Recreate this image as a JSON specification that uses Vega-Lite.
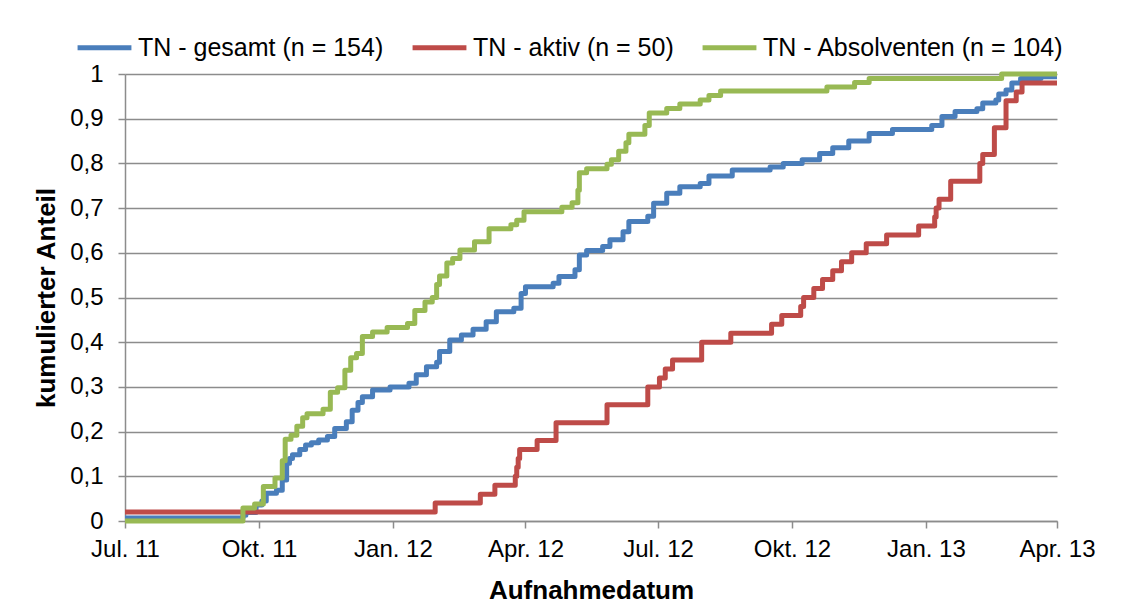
{
  "$schema": "https://vega.github.io/schema/vega-lite/v6.json",
  "width": 932,
  "height": 447,
  "autosize": "none",
  "padding": {"left": 125, "top": 74, "right": 66, "bottom": 92},
  "background": "white",
  "config": {
    "view": {"stroke": null},
    "font": "Liberation Sans",
    "axis": {"labelFont": "Liberation Sans", "titleFont": "Liberation Sans", "labelColor": "black", "titleColor": "black"}
  },
  "data": {
    "values": [
      {"s": "TN - gesamt (n = 154)", "d": "2011-07-01", "v": 0.0065},
      {"s": "TN - gesamt (n = 154)", "d": "2011-09-20", "v": 0.013},
      {"s": "TN - gesamt (n = 154)", "d": "2011-09-22", "v": 0.019},
      {"s": "TN - gesamt (n = 154)", "d": "2011-09-29", "v": 0.036},
      {"s": "TN - gesamt (n = 154)", "d": "2011-10-03", "v": 0.045},
      {"s": "TN - gesamt (n = 154)", "d": "2011-10-06", "v": 0.062},
      {"s": "TN - gesamt (n = 154)", "d": "2011-10-13", "v": 0.069},
      {"s": "TN - gesamt (n = 154)", "d": "2011-10-17", "v": 0.092},
      {"s": "TN - gesamt (n = 154)", "d": "2011-10-20", "v": 0.129},
      {"s": "TN - gesamt (n = 154)", "d": "2011-10-22", "v": 0.14},
      {"s": "TN - gesamt (n = 154)", "d": "2011-10-24", "v": 0.148},
      {"s": "TN - gesamt (n = 154)", "d": "2011-10-29", "v": 0.16},
      {"s": "TN - gesamt (n = 154)", "d": "2011-11-02", "v": 0.17},
      {"s": "TN - gesamt (n = 154)", "d": "2011-11-06", "v": 0.175},
      {"s": "TN - gesamt (n = 154)", "d": "2011-11-11", "v": 0.181},
      {"s": "TN - gesamt (n = 154)", "d": "2011-11-17", "v": 0.189},
      {"s": "TN - gesamt (n = 154)", "d": "2011-11-22", "v": 0.207},
      {"s": "TN - gesamt (n = 154)", "d": "2011-11-30", "v": 0.222},
      {"s": "TN - gesamt (n = 154)", "d": "2011-12-04", "v": 0.248},
      {"s": "TN - gesamt (n = 154)", "d": "2011-12-08", "v": 0.265},
      {"s": "TN - gesamt (n = 154)", "d": "2011-12-11", "v": 0.278},
      {"s": "TN - gesamt (n = 154)", "d": "2011-12-18", "v": 0.293},
      {"s": "TN - gesamt (n = 154)", "d": "2011-12-30", "v": 0.3},
      {"s": "TN - gesamt (n = 154)", "d": "2012-01-12", "v": 0.308},
      {"s": "TN - gesamt (n = 154)", "d": "2012-01-17", "v": 0.327},
      {"s": "TN - gesamt (n = 154)", "d": "2012-01-24", "v": 0.345},
      {"s": "TN - gesamt (n = 154)", "d": "2012-01-31", "v": 0.355},
      {"s": "TN - gesamt (n = 154)", "d": "2012-02-02", "v": 0.379},
      {"s": "TN - gesamt (n = 154)", "d": "2012-02-09", "v": 0.405},
      {"s": "TN - gesamt (n = 154)", "d": "2012-02-17", "v": 0.416},
      {"s": "TN - gesamt (n = 154)", "d": "2012-02-25", "v": 0.429},
      {"s": "TN - gesamt (n = 154)", "d": "2012-03-05", "v": 0.446},
      {"s": "TN - gesamt (n = 154)", "d": "2012-03-12", "v": 0.468},
      {"s": "TN - gesamt (n = 154)", "d": "2012-03-24", "v": 0.476},
      {"s": "TN - gesamt (n = 154)", "d": "2012-03-29", "v": 0.509},
      {"s": "TN - gesamt (n = 154)", "d": "2012-04-01", "v": 0.524},
      {"s": "TN - gesamt (n = 154)", "d": "2012-04-20", "v": 0.532},
      {"s": "TN - gesamt (n = 154)", "d": "2012-04-24", "v": 0.547},
      {"s": "TN - gesamt (n = 154)", "d": "2012-05-05", "v": 0.562},
      {"s": "TN - gesamt (n = 154)", "d": "2012-05-08", "v": 0.595},
      {"s": "TN - gesamt (n = 154)", "d": "2012-05-13", "v": 0.605},
      {"s": "TN - gesamt (n = 154)", "d": "2012-05-24", "v": 0.614},
      {"s": "TN - gesamt (n = 154)", "d": "2012-05-29", "v": 0.629},
      {"s": "TN - gesamt (n = 154)", "d": "2012-06-07", "v": 0.647},
      {"s": "TN - gesamt (n = 154)", "d": "2012-06-11", "v": 0.67},
      {"s": "TN - gesamt (n = 154)", "d": "2012-06-24", "v": 0.682},
      {"s": "TN - gesamt (n = 154)", "d": "2012-06-28", "v": 0.711},
      {"s": "TN - gesamt (n = 154)", "d": "2012-07-07", "v": 0.733},
      {"s": "TN - gesamt (n = 154)", "d": "2012-07-16", "v": 0.748},
      {"s": "TN - gesamt (n = 154)", "d": "2012-07-30", "v": 0.755},
      {"s": "TN - gesamt (n = 154)", "d": "2012-08-05", "v": 0.772},
      {"s": "TN - gesamt (n = 154)", "d": "2012-08-21", "v": 0.785},
      {"s": "TN - gesamt (n = 154)", "d": "2012-09-16", "v": 0.792},
      {"s": "TN - gesamt (n = 154)", "d": "2012-09-25", "v": 0.8},
      {"s": "TN - gesamt (n = 154)", "d": "2012-10-08", "v": 0.808},
      {"s": "TN - gesamt (n = 154)", "d": "2012-10-20", "v": 0.822},
      {"s": "TN - gesamt (n = 154)", "d": "2012-10-29", "v": 0.835},
      {"s": "TN - gesamt (n = 154)", "d": "2012-11-09", "v": 0.85},
      {"s": "TN - gesamt (n = 154)", "d": "2012-11-23", "v": 0.867},
      {"s": "TN - gesamt (n = 154)", "d": "2012-12-09", "v": 0.876},
      {"s": "TN - gesamt (n = 154)", "d": "2013-01-05", "v": 0.885},
      {"s": "TN - gesamt (n = 154)", "d": "2013-01-12", "v": 0.905},
      {"s": "TN - gesamt (n = 154)", "d": "2013-01-21", "v": 0.916},
      {"s": "TN - gesamt (n = 154)", "d": "2013-02-05", "v": 0.922},
      {"s": "TN - gesamt (n = 154)", "d": "2013-02-09", "v": 0.935},
      {"s": "TN - gesamt (n = 154)", "d": "2013-02-18", "v": 0.942},
      {"s": "TN - gesamt (n = 154)", "d": "2013-02-20", "v": 0.955},
      {"s": "TN - gesamt (n = 154)", "d": "2013-02-25", "v": 0.964},
      {"s": "TN - gesamt (n = 154)", "d": "2013-03-01", "v": 0.98},
      {"s": "TN - gesamt (n = 154)", "d": "2013-03-07", "v": 0.99},
      {"s": "TN - gesamt (n = 154)", "d": "2013-03-21", "v": 0.994},
      {"s": "TN - gesamt (n = 154)", "d": "2013-04-01", "v": 0.994},

      {"s": "TN - aktiv (n = 50)", "d": "2011-07-01", "v": 0.02},
      {"s": "TN - aktiv (n = 50)", "d": "2012-01-30", "v": 0.04},
      {"s": "TN - aktiv (n = 50)", "d": "2012-03-01", "v": 0.06},
      {"s": "TN - aktiv (n = 50)", "d": "2012-03-11", "v": 0.08},
      {"s": "TN - aktiv (n = 50)", "d": "2012-03-25", "v": 0.1},
      {"s": "TN - aktiv (n = 50)", "d": "2012-03-26", "v": 0.12},
      {"s": "TN - aktiv (n = 50)", "d": "2012-03-27", "v": 0.14},
      {"s": "TN - aktiv (n = 50)", "d": "2012-03-28", "v": 0.16},
      {"s": "TN - aktiv (n = 50)", "d": "2012-04-09", "v": 0.18},
      {"s": "TN - aktiv (n = 50)", "d": "2012-04-22", "v": 0.22},
      {"s": "TN - aktiv (n = 50)", "d": "2012-05-27", "v": 0.26},
      {"s": "TN - aktiv (n = 50)", "d": "2012-06-24", "v": 0.3},
      {"s": "TN - aktiv (n = 50)", "d": "2012-07-02", "v": 0.32},
      {"s": "TN - aktiv (n = 50)", "d": "2012-07-06", "v": 0.34},
      {"s": "TN - aktiv (n = 50)", "d": "2012-07-11", "v": 0.36},
      {"s": "TN - aktiv (n = 50)", "d": "2012-07-31", "v": 0.4},
      {"s": "TN - aktiv (n = 50)", "d": "2012-08-20", "v": 0.42},
      {"s": "TN - aktiv (n = 50)", "d": "2012-09-17", "v": 0.44},
      {"s": "TN - aktiv (n = 50)", "d": "2012-09-24", "v": 0.46},
      {"s": "TN - aktiv (n = 50)", "d": "2012-10-07", "v": 0.48},
      {"s": "TN - aktiv (n = 50)", "d": "2012-10-09", "v": 0.5},
      {"s": "TN - aktiv (n = 50)", "d": "2012-10-16", "v": 0.52},
      {"s": "TN - aktiv (n = 50)", "d": "2012-10-22", "v": 0.54},
      {"s": "TN - aktiv (n = 50)", "d": "2012-10-29", "v": 0.56},
      {"s": "TN - aktiv (n = 50)", "d": "2012-11-04", "v": 0.58},
      {"s": "TN - aktiv (n = 50)", "d": "2012-11-11", "v": 0.6},
      {"s": "TN - aktiv (n = 50)", "d": "2012-11-21", "v": 0.62},
      {"s": "TN - aktiv (n = 50)", "d": "2012-12-05", "v": 0.64},
      {"s": "TN - aktiv (n = 50)", "d": "2012-12-27", "v": 0.66},
      {"s": "TN - aktiv (n = 50)", "d": "2013-01-07", "v": 0.68},
      {"s": "TN - aktiv (n = 50)", "d": "2013-01-08", "v": 0.7},
      {"s": "TN - aktiv (n = 50)", "d": "2013-01-10", "v": 0.72},
      {"s": "TN - aktiv (n = 50)", "d": "2013-01-18", "v": 0.76},
      {"s": "TN - aktiv (n = 50)", "d": "2013-02-07", "v": 0.8},
      {"s": "TN - aktiv (n = 50)", "d": "2013-02-09", "v": 0.82},
      {"s": "TN - aktiv (n = 50)", "d": "2013-02-17", "v": 0.88},
      {"s": "TN - aktiv (n = 50)", "d": "2013-02-25", "v": 0.94},
      {"s": "TN - aktiv (n = 50)", "d": "2013-03-04", "v": 0.96},
      {"s": "TN - aktiv (n = 50)", "d": "2013-03-08", "v": 0.98},
      {"s": "TN - aktiv (n = 50)", "d": "2013-04-01", "v": 0.98},

      {"s": "TN - Absolventen (n = 104)", "d": "2011-07-01", "v": 0.0},
      {"s": "TN - Absolventen (n = 104)", "d": "2011-09-20", "v": 0.029},
      {"s": "TN - Absolventen (n = 104)", "d": "2011-09-28", "v": 0.038},
      {"s": "TN - Absolventen (n = 104)", "d": "2011-10-04", "v": 0.077},
      {"s": "TN - Absolventen (n = 104)", "d": "2011-10-12", "v": 0.096},
      {"s": "TN - Absolventen (n = 104)", "d": "2011-10-17", "v": 0.135},
      {"s": "TN - Absolventen (n = 104)", "d": "2011-10-19", "v": 0.183},
      {"s": "TN - Absolventen (n = 104)", "d": "2011-10-23", "v": 0.192},
      {"s": "TN - Absolventen (n = 104)", "d": "2011-10-27", "v": 0.212},
      {"s": "TN - Absolventen (n = 104)", "d": "2011-10-31", "v": 0.231},
      {"s": "TN - Absolventen (n = 104)", "d": "2011-11-03", "v": 0.24},
      {"s": "TN - Absolventen (n = 104)", "d": "2011-11-14", "v": 0.25},
      {"s": "TN - Absolventen (n = 104)", "d": "2011-11-19", "v": 0.288},
      {"s": "TN - Absolventen (n = 104)", "d": "2011-11-24", "v": 0.298},
      {"s": "TN - Absolventen (n = 104)", "d": "2011-11-29", "v": 0.337},
      {"s": "TN - Absolventen (n = 104)", "d": "2011-12-03", "v": 0.365},
      {"s": "TN - Absolventen (n = 104)", "d": "2011-12-07", "v": 0.375},
      {"s": "TN - Absolventen (n = 104)", "d": "2011-12-11", "v": 0.413},
      {"s": "TN - Absolventen (n = 104)", "d": "2011-12-18", "v": 0.423},
      {"s": "TN - Absolventen (n = 104)", "d": "2011-12-28", "v": 0.433},
      {"s": "TN - Absolventen (n = 104)", "d": "2012-01-11", "v": 0.442},
      {"s": "TN - Absolventen (n = 104)", "d": "2012-01-16", "v": 0.471},
      {"s": "TN - Absolventen (n = 104)", "d": "2012-01-23", "v": 0.49},
      {"s": "TN - Absolventen (n = 104)", "d": "2012-01-28", "v": 0.5},
      {"s": "TN - Absolventen (n = 104)", "d": "2012-01-31", "v": 0.529},
      {"s": "TN - Absolventen (n = 104)", "d": "2012-02-02", "v": 0.548},
      {"s": "TN - Absolventen (n = 104)", "d": "2012-02-07", "v": 0.577},
      {"s": "TN - Absolventen (n = 104)", "d": "2012-02-11", "v": 0.587},
      {"s": "TN - Absolventen (n = 104)", "d": "2012-02-16", "v": 0.606},
      {"s": "TN - Absolventen (n = 104)", "d": "2012-02-26", "v": 0.625},
      {"s": "TN - Absolventen (n = 104)", "d": "2012-03-07", "v": 0.654},
      {"s": "TN - Absolventen (n = 104)", "d": "2012-03-22", "v": 0.663},
      {"s": "TN - Absolventen (n = 104)", "d": "2012-03-26", "v": 0.673},
      {"s": "TN - Absolventen (n = 104)", "d": "2012-03-31", "v": 0.692},
      {"s": "TN - Absolventen (n = 104)", "d": "2012-04-26", "v": 0.702},
      {"s": "TN - Absolventen (n = 104)", "d": "2012-05-03", "v": 0.712},
      {"s": "TN - Absolventen (n = 104)", "d": "2012-05-07", "v": 0.74},
      {"s": "TN - Absolventen (n = 104)", "d": "2012-05-08", "v": 0.779},
      {"s": "TN - Absolventen (n = 104)", "d": "2012-05-13", "v": 0.788},
      {"s": "TN - Absolventen (n = 104)", "d": "2012-05-27", "v": 0.798},
      {"s": "TN - Absolventen (n = 104)", "d": "2012-05-30", "v": 0.808},
      {"s": "TN - Absolventen (n = 104)", "d": "2012-06-04", "v": 0.827},
      {"s": "TN - Absolventen (n = 104)", "d": "2012-06-09", "v": 0.846},
      {"s": "TN - Absolventen (n = 104)", "d": "2012-06-11", "v": 0.865},
      {"s": "TN - Absolventen (n = 104)", "d": "2012-06-22", "v": 0.885},
      {"s": "TN - Absolventen (n = 104)", "d": "2012-06-25", "v": 0.913},
      {"s": "TN - Absolventen (n = 104)", "d": "2012-07-07", "v": 0.923},
      {"s": "TN - Absolventen (n = 104)", "d": "2012-07-16", "v": 0.933},
      {"s": "TN - Absolventen (n = 104)", "d": "2012-07-30", "v": 0.942},
      {"s": "TN - Absolventen (n = 104)", "d": "2012-08-05", "v": 0.952},
      {"s": "TN - Absolventen (n = 104)", "d": "2012-08-13", "v": 0.962},
      {"s": "TN - Absolventen (n = 104)", "d": "2012-10-25", "v": 0.971},
      {"s": "TN - Absolventen (n = 104)", "d": "2012-11-13", "v": 0.981},
      {"s": "TN - Absolventen (n = 104)", "d": "2012-11-23", "v": 0.99},
      {"s": "TN - Absolventen (n = 104)", "d": "2013-02-22", "v": 1.0},
      {"s": "TN - Absolventen (n = 104)", "d": "2013-04-01", "v": 1.0}
    ],
    "format": {"parse": {"d": "utc:'%Y-%m-%d'"}}
  },
  "mark": {"type": "line", "interpolate": "step-after", "strokeWidth": 5, "strokeJoin": "round", "clip": false},
  "encoding": {
    "x": {
      "field": "d",
      "type": "temporal",
      "scale": {"type": "utc", "domain": [{"year": 2011, "month": 7, "date": 1, "utc": true}, {"year": 2013, "month": 4, "date": 1, "utc": true}], "nice": false},
      "axis": {
        "title": "Aufnahmedatum",
        "titleFontSize": 26,
        "titleFontWeight": "bold",
        "titlePadding": 16,
        "labelFontSize": 24,
        "labelPadding": 9,
        "values": [
          {"year": 2011, "month": 7, "date": 1, "utc": true},
          {"year": 2011, "month": 10, "date": 1, "utc": true},
          {"year": 2012, "month": 1, "date": 1, "utc": true},
          {"year": 2012, "month": 4, "date": 1, "utc": true},
          {"year": 2012, "month": 7, "date": 1, "utc": true},
          {"year": 2012, "month": 10, "date": 1, "utc": true},
          {"year": 2013, "month": 1, "date": 1, "utc": true},
          {"year": 2013, "month": 4, "date": 1, "utc": true}
        ],
        "labelExpr": "['Jan.','Feb.','Mär.','Apr.','Mai','Jun.','Jul.','Aug.','Sep.','Okt.','Nov.','Dez.'][utcmonth(datum.value)] + ' ' + utcFormat(datum.value, '%y')",
        "labelFlush": false,
        "labelOverlap": false,
        "grid": false,
        "domainColor": "#8c8c8c",
        "domainWidth": 1.5,
        "tickColor": "#8c8c8c",
        "tickWidth": 1.5,
        "tickSize": 7
      }
    },
    "y": {
      "field": "v",
      "type": "quantitative",
      "scale": {"domain": [0, 1], "nice": false},
      "axis": {
        "title": "kumulierter Anteil",
        "titleFontSize": 26,
        "titleFontWeight": "bold",
        "titlePadding": 10,
        "labelFontSize": 24,
        "labelPadding": 15,
        "values": [0, 0.1, 0.2, 0.3, 0.4, 0.5, 0.6, 0.7, 0.8, 0.9, 1],
        "labelExpr": "replace(format(datum.value, '.1~f'), '.', ',')",
        "grid": true,
        "gridColor": "#8c8c8c",
        "gridWidth": 1.5,
        "domainColor": "#8c8c8c",
        "domainWidth": 1.5,
        "tickColor": "#8c8c8c",
        "tickWidth": 1.5,
        "tickSize": 7
      }
    },
    "color": {
      "field": "s",
      "type": "nominal",
      "scale": {
        "domain": ["TN - gesamt (n = 154)", "TN - aktiv (n = 50)", "TN - Absolventen (n = 104)"],
        "range": ["#4A7EBB", "#BE4B48", "#98B954"]
      },
      "legend": {
        "title": null,
        "orient": "none",
        "direction": "horizontal",
        "legendX": -50,
        "legendY": -56,
        "symbolType": "stroke",
        "symbolStrokeWidth": 5,
        "symbolSize": 2900,
        "labelFontSize": 25,
        "labelLimit": 0,
        "labelFont": "Liberation Sans",
        "labelColor": "black",
        "labelOffset": 4,
        "columnPadding": 18,
        "padding": 0
      }
    }
  }
}
